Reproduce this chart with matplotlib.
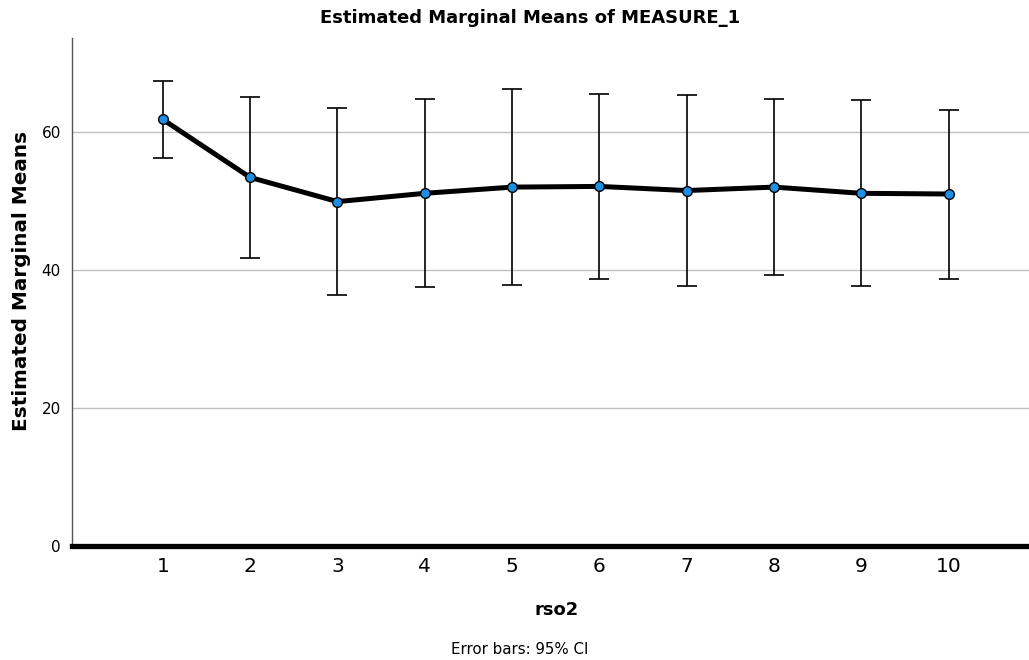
import matplotlib
matplotlib.use("Agg")
import matplotlib.pyplot as plt

rso2 = [1, 2, 3, 4, 5, 6, 7, 8, 9, 10]
means = [61.8, 53.4, 49.9, 51.1, 52.0, 52.1, 51.5, 52.0, 51.1, 51.0]
ci_upper = [67.4, 65.0, 63.4, 64.7, 66.2, 65.5, 65.3, 64.8, 64.6, 63.2]
ci_lower = [56.2, 41.7, 36.4, 37.5, 37.8, 38.7, 37.7, 39.2, 37.6, 38.7]
y_ticks = [0, 20, 40, 60]

plt.rcParams['font.family'] = ['DejaVu Sans']

fig = plt.figure(figsize=(10.29, 6.6), dpi=100)
ax = fig.add_axes([0.070, 0.1727, 0.930, 0.7697])

yerr = [[m - l for m, l in zip(means, ci_lower)], [u - m for m, u in zip(means, ci_upper)]]
ax.errorbar(rso2, means, yerr=yerr, fmt='none', ecolor='black', elinewidth=1.2,
            capsize=7.5, capthick=1.2, zorder=3)
ax.plot(rso2, means, color='black', lw=3.6, zorder=4, solid_joinstyle='round')
ax.plot(rso2, means, 'o', ms=7, markerfacecolor='#1f8ee0', markeredgecolor='black',
        markeredgewidth=1.0, zorder=5)

ax.set_xlim(-0.04, 10.92)
ax.set_ylim(0, 73.6)
ax.set_yticks(y_ticks)
ax.set_xticks(rso2)
ax.set_xticklabels([str(v) for v in rso2], fontsize=14.5)
ax.set_yticklabels([str(v) for v in y_ticks], fontsize=11)
ax.tick_params(axis='both', length=0)
ax.tick_params(axis='x', pad=8)
ax.tick_params(axis='y', pad=8)
ax.yaxis.grid(True, color='#c0c0c0', lw=1.0)
ax.set_axisbelow(True)
for s in ['top', 'right']:
    ax.spines[s].set_visible(False)
ax.spines['left'].set_color('#555555')
ax.spines['left'].set_linewidth(1.0)
ax.spines['bottom'].set_color('black')
ax.spines['bottom'].set_linewidth(3.8)

fig.text(0.515, 0.972, 'Estimated Marginal Means of MEASURE_1', ha='center', va='center',
         fontsize=13, fontweight='bold')
fig.text(0.541, 0.076, 'rso2', ha='center', va='center', fontsize=13, fontweight='bold')
fig.text(0.505, 0.016, 'Error bars: 95% CI', ha='center', va='center', fontsize=10.8)
fig.text(0.021, 0.575, 'Estimated Marginal Means', ha='center', va='center', rotation=90,
         fontsize=14.4, fontweight='bold')

fig.savefig('out.png', dpi=100)
